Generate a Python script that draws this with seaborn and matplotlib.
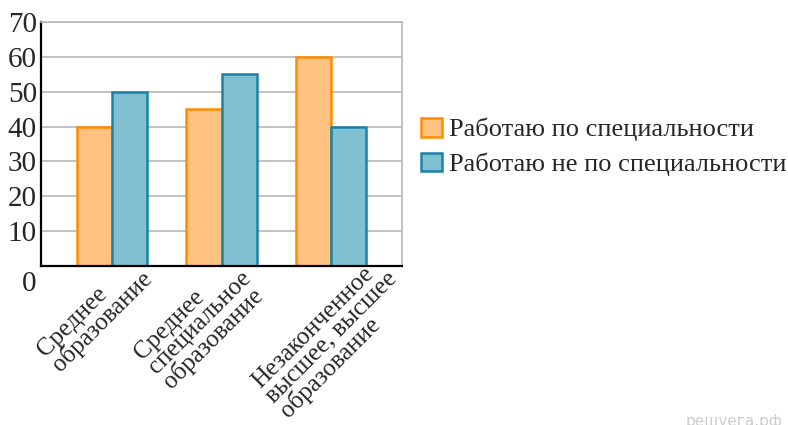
import matplotlib
matplotlib.use("Agg")
import matplotlib.pyplot as plt
import matplotlib.transforms as mtransforms
import matplotlib.patches as mpatches
import seaborn as sns
import pandas as pd

categories = ["Среднее\nобразование",
              "Среднее\nспециальное\nобразование",
              "Незаконченное\nвысшее, высшее\nобразование"]
series_names = ["Работаю по специальности", "Работаю не по специальности"]
series1 = [40, 45, 60]
series2 = [50, 55, 40]
yticks = [0, 10, 20, 30, 40, 50, 60, 70]

fills = ["#FFC281", "#80C0D1"]
edges = ["#FF8C00", "#1A82A8"]

df = pd.DataFrame({
    "cat": categories * 2,
    "val": series1 + series2,
    "series": [series_names[0]] * 3 + [series_names[1]] * 3,
})

sns.set_style("white")
plt.rcParams["font.family"] = ["Liberation Serif", "DejaVu Serif"]

fig = plt.figure(figsize=(7.88, 4.25), dpi=100)
ax = fig.add_axes([41/788, 1 - 266/425, (402-41)/788, (266-22)/425])

sns.barplot(data=df, x="cat", y="val", hue="series", palette=fills,
            width=0.64, ax=ax, legend=False, saturation=1)
for cont, ec in zip(ax.containers, edges):
    for p in cont:
        p.set_edgecolor(ec)
        p.set_linewidth(1.8)

ax.set_xlim(-0.65, 2.65)
ax.set_ylim(0, 70)
ax.set_yticks(yticks)
ax.set_yticklabels([str(v) for v in yticks], fontsize=21)
ax.set_xlabel("")
ax.set_ylabel("")
ax.yaxis.grid(True, color="#b8b8b8", linewidth=1.2)
ax.set_axisbelow(True)
ax.tick_params(axis="both", length=0)
ax.tick_params(axis="y", pad=3)

for s in ["left", "bottom"]:
    ax.spines[s].set_color("black")
    ax.spines[s].set_linewidth(1.6)
for s in ["top", "right"]:
    ax.spines[s].set_color("#b8b8b8")
    ax.spines[s].set_linewidth(1.2)

# shift the "0" label below the axis
for lab in ax.get_yticklabels():
    if lab.get_text() == "0":
        lab.set_transform(lab.get_transform() +
                          mtransforms.ScaledTranslation(0, -15/100, fig.dpi_scale_trans))

ax.set_xticks(range(len(categories)))
ax.set_xticklabels(categories, fontsize=18, rotation=45, ha="right", va="top",
                   rotation_mode="anchor", multialignment="left", linespacing=0.88)
xoffs = [14, 4, 41]
for lab, dx in zip(ax.get_xticklabels(), xoffs):
    lab.set_transform(lab.get_transform() +
                      mtransforms.ScaledTranslation(dx/100, 18/100, fig.dpi_scale_trans))

handles = [mpatches.Patch(facecolor=f, edgecolor=e, linewidth=1.8, label=n)
           for f, e, n in zip(fills, edges, series_names)]
fig.legend(handles=handles, loc="center left", bbox_to_anchor=(421/788, 1 - 147/425),
           frameon=False, fontsize=19, handlelength=0.8, handleheight=0.72,
           handletextpad=0.27, labelspacing=0.42, borderpad=0, borderaxespad=0)

fig.text(783/788, -4/425, "решуега.рф", color="#cccccc", fontsize=11,
         ha="right", va="bottom", family=["DejaVu Sans"])

fig.savefig("out.png", dpi=100)
